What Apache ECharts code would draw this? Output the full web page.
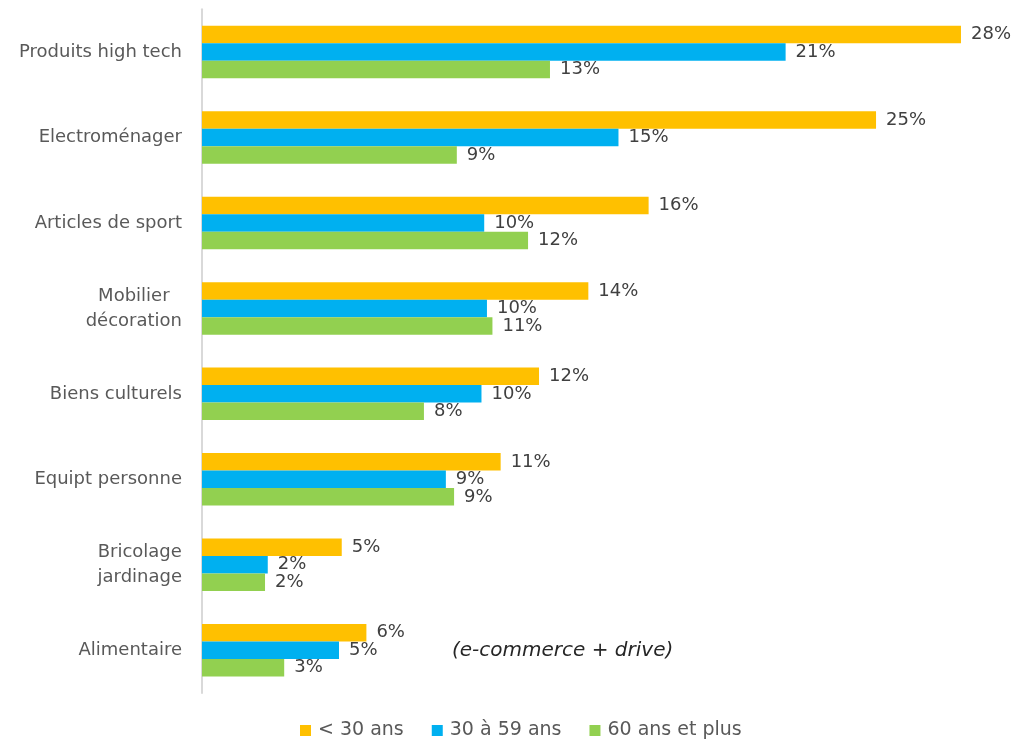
<!DOCTYPE html>
<html><head><meta charset="utf-8">
<script src="https://cdn.jsdelivr.net/npm/echarts@6/dist/echarts.min.js"></script>
<style>html,body{margin:0;padding:0;background:#fff}#c{width:1016px;height:739px}</style>
</head><body><div id="c"></div>
<script>
const categories = ['Produits high tech','Electroménager','Articles de sport','Mobilier\ndécoration','Biens culturels','Equipt personne','Bricolage\njardinage','Alimentaire'];
const seriesNames = ['< 30 ans','30 à 59 ans','60 ans et plus'];
const under30 = [27.7, 24.6, 16.3, 14.1, 12.3, 10.9, 5.1, 6.0];
const age30to59 = [21.3, 15.2, 10.3, 10.4, 10.2, 8.9, 2.4, 5.0];
const over60 = [12.7, 9.3, 11.9, 10.6, 8.1, 9.2, 2.3, 3.0];
const colors = ['#FFC000','#00B0F0','#92D050'];
const note = '(e-commerce + drive)';

const FONT = 'DejaVu Sans';
const chart = echarts.init(document.getElementById('c'));
const mk = (name, data, color) => ({
  name, type:'bar', data, barWidth:17.5, barGap:'0%',
  itemStyle:{color},
  label:{show:true, position:'right', distance:10, color:'#404040', fontFamily:FONT, fontSize:18,
    formatter: p => Math.round(p.value) + '%'}
});
chart.setOption({
  animation:false,
  textStyle:{fontFamily:FONT},
  grid:{left:202, right:19.4, top:9.25, bottom:46, containLabel:false},
  xAxis:{type:'value', min:0, max:29, show:false},
  yAxis:{type:'category', data:categories, inverse:true,
    axisLine:{show:true, lineStyle:{color:'#D9D9D9', width:2}},
    axisTick:{show:false},
    axisLabel:{margin:20, color:'#595959', fontFamily:FONT, fontSize:18,
      formatter: v => v.split('\n').map(s => '{c|' + s + '}').join('\n'),
      rich:{c:{align:'center', color:'#595959', fontFamily:FONT, fontSize:18, lineHeight:25}}}},
  legend:{bottom:-6, left:295, itemWidth:11, itemHeight:11, itemGap:28, icon:'rect',
    textStyle:{color:'#595959', fontFamily:FONT, fontSize:19, padding:[0,0,0,2]}},
  series:[mk(seriesNames[0], under30, colors[0]), mk(seriesNames[1], age30to59, colors[1]), mk(seriesNames[2], over60, colors[2])],
  graphic:[{type:'text', left:452, top:641, style:{text:note, fontFamily:FONT, fontStyle:'italic', fontSize:20, fill:'#262626'}}]
});
</script></body></html>
